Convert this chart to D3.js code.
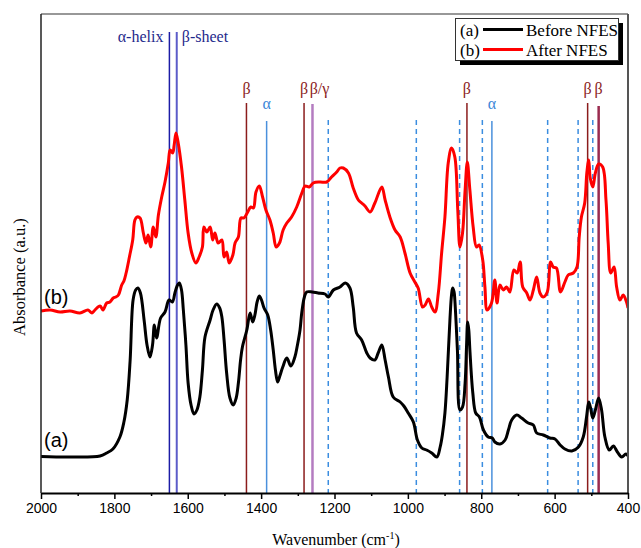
<!DOCTYPE html>
<html>
<head>
<meta charset="utf-8">
<script src="https://cdn.jsdelivr.net/npm/d3@7"></script>
<style>
  body { margin: 0; background: #fff; }
  svg { display: block; }
</style>
</head>
<body>
<div id="chart"></div>
<script>
// spectrum (a) before NFES: [wavenumber, absorbance a.u.]
var beforeNFES = [
  [2000,0.365],[1921,0.36],[1839,0.37],[1821,0.40],[1804,0.44],[1785,0.56],[1774,0.71],[1765,0.93],
  [1757,1.33],[1749,1.93],[1742,2.03],[1736,2.05],[1729,2.00],[1719,1.73],[1711,1.48],[1703,1.36],
  [1696,1.48],[1691,1.68],[1685,1.55],[1674,1.75],[1662,1.81],[1651,1.93],[1642,1.91],[1635,2.00],
  [1629,2.07],[1623,2.10],[1617,2.03],[1612,1.83],[1605,1.48],[1599,1.10],[1591,0.88],[1583,0.79],
  [1575,0.83],[1567,0.96],[1560,1.23],[1553,1.56],[1539,1.73],[1531,1.83],[1521,1.89],[1513,1.85],
  [1507,1.76],[1501,1.53],[1494,1.20],[1485,0.95],[1476,0.88],[1468,0.95],[1462,1.10],[1456,1.33],
  [1451,1.46],[1439,1.63],[1430,1.80],[1423,1.71],[1417,1.78],[1411,1.91],[1405,1.97],[1399,1.93],
  [1392,1.85],[1382,1.78],[1374,1.63],[1367,1.43],[1361,1.23],[1355,1.11],[1349,1.17],[1341,1.26],
  [1330,1.35],[1319,1.27],[1308,1.36],[1301,1.48],[1294,1.63],[1289,1.81],[1282,1.96],[1276,2.01],
  [1261,2.01],[1245,2.00],[1226,1.99],[1217,1.96],[1203,2.03],[1185,2.06],[1171,2.10],[1158,2.05],
  [1149,1.86],[1140,1.60],[1126,1.53],[1112,1.40],[1103,1.35],[1090,1.33],[1081,1.40],[1071,1.48],
  [1062,1.33],[1053,1.16],[1040,0.96],[1021,0.91],[1011,0.87],[999,0.80],[985,0.71],[974,0.53],
  [962,0.45],[949,0.43],[935,0.40],[921,0.36],[912,0.46],[906,0.58],[899,0.80],[893,1.16],
  [885,1.76],[881,1.98],[878,2.05],[874,2.01],[872,1.93],[865,1.43],[858,0.83],[851,0.86],
  [844,1.10],[840,1.48],[837,1.71],[834,1.63],[831,1.43],[823,1.00],[815,0.80],[805,0.76],
  [794,0.63],[781,0.56],[770,0.55],[763,0.51],[749,0.49],[735,0.53],[726,0.63],[717,0.73],
  [703,0.78],[690,0.75],[672,0.70],[658,0.68],[649,0.60],[631,0.58],[613,0.55],[599,0.54],
  [585,0.48],[572,0.44],[553,0.42],[535,0.46],[522,0.56],[513,0.76],[507,0.91],[502,0.85],
  [496,0.75],[489,0.83],[480,0.95],[472,0.83],[463,0.56],[451,0.43],[440,0.47],[429,0.41],
  [417,0.36],[406,0.39],[400,0.37]
];

// spectrum (b) after NFES (offset upward)
var afterNFES = [
  [2000,1.82],[1975,1.83],[1948,1.81],[1921,1.82],[1894,1.80],[1872,1.83],[1861,1.80],[1853,1.83],
  [1839,1.87],[1831,1.83],[1821,1.90],[1812,1.91],[1803,1.95],[1796,1.96],[1789,1.98],[1780,2.08],
  [1774,2.12],[1768,2.20],[1759,2.36],[1750,2.53],[1744,2.73],[1738,2.76],[1730,2.75],[1721,2.60],
  [1714,2.50],[1708,2.58],[1701,2.46],[1694,2.66],[1687,2.56],[1680,2.78],[1671,2.96],[1662,3.11],
  [1653,3.30],[1648,3.43],[1641,3.40],[1637,3.48],[1632,3.60],[1626,3.50],[1617,3.26],[1608,2.93],
  [1599,2.60],[1589,2.40],[1578,2.30],[1569,2.36],[1560,2.46],[1556,2.66],[1548,2.61],[1539,2.66],
  [1532,2.53],[1526,2.60],[1517,2.50],[1507,2.53],[1501,2.36],[1494,2.41],[1487,2.30],[1477,2.38],
  [1471,2.50],[1462,2.56],[1455,2.75],[1447,2.75],[1438,2.80],[1428,2.86],[1421,2.85],[1414,3.01],
  [1405,3.07],[1396,2.96],[1387,2.83],[1376,2.73],[1367,2.60],[1359,2.46],[1350,2.50],[1340,2.63],
  [1330,2.70],[1317,2.76],[1303,2.86],[1289,3.00],[1280,3.07],[1269,3.06],[1258,3.10],[1240,3.11],
  [1221,3.11],[1208,3.16],[1194,3.21],[1185,3.25],[1176,3.25],[1162,3.20],[1149,3.05],[1135,2.93],
  [1126,2.90],[1117,2.87],[1103,2.81],[1090,2.90],[1071,3.06],[1062,2.93],[1049,2.76],[1035,2.63],
  [1021,2.56],[1008,2.40],[994,2.20],[981,2.11],[972,2.05],[960,1.86],[953,1.88],[944,1.94],
  [935,1.86],[926,1.81],[917,2.00],[908,2.40],[899,2.76],[890,3.30],[881,3.45],[872,3.36],
  [864,2.83],[858,2.46],[851,2.60],[844,3.03],[838,3.31],[831,3.03],[822,2.66],[813,2.46],
  [806,2.48],[796,2.33],[790,2.06],[784,1.83],[772,1.90],[763,2.13],[757,1.90],[749,2.08],
  [740,2.03],[731,2.06],[722,2.01],[711,2.23],[702,2.20],[694,2.31],[687,2.06],[676,2.00],
  [667,1.93],[658,2.03],[649,2.16],[640,2.00],[631,1.96],[620,2.01],[611,2.31],[604,2.26],
  [595,2.25],[584,2.01],[572,2.11],[563,2.18],[549,2.20],[539,2.26],[533,2.56],[527,2.76],
  [518,2.90],[512,3.21],[507,3.33],[503,3.15],[496,3.06],[489,3.20],[480,3.29],[469,3.26],
  [460,2.93],[454,2.50],[447,2.20],[438,2.26],[431,2.06],[422,1.93],[413,1.98],[404,1.91],[400,1.85]
];

// band assignment markers: wavenumber + kind
var bandPositions = [1650, 1630, 1440, 1385, 1283, 1260, 1217, 977, 859, 839, 797, 771, 619, 536, 510, 496, 480];
var bandKinds = ["helix", "sheet", "beta", "alpha", "beta", "betagamma", "dash", "dash", "dash", "beta", "dash", "alpha", "dash", "dash", "beta", "dash", "beta2"];
var bandLabels = ["", "", "β", "α", "β", "β/γ", "", "", "", "β", "", "α", "", "", "β", "", "β"];

var xTicks = [2000, 1800, 1600, 1400, 1200, 1000, 800, 600, 400];
var legendItems = ["(a)", "(b)"];
var legendNames = ["Before NFES", "After NFES"];

var width = 641, height = 548;
var margin = {left: 41, right: 13, top: 14, bottom: 55};
var innerBottom = height - margin.bottom; // 493

var svg = d3.select("#chart").append("svg")
    .attr("width", width)
    .attr("height", height);

var x = d3.scaleLinear().domain([2000, 400]).range([margin.left, width - margin.right]);
var y = d3.scaleLinear().domain([0, 4.8]).range([innerBottom, innerBottom - 480]);

// styles for each marker kind
var kindStyle = {
    helix:     {stroke: "#1c1ca6", width: 1.5, dash: null, top: 32},
    sheet:     {stroke: "#5c5cc9", width: 2, dash: null, top: 32},
    beta:      {stroke: "#8b1c1c", width: 1.5, dash: null, top: 103},
    beta2:     {stroke: "#9a2b4f", width: 2.5, dash: null, top: 106},
    alpha:     {stroke: "#4a90dc", width: 1.5, dash: null, top: 121},
    betagamma: {stroke: "#b47cc0", width: 2.5, dash: null, top: 104},
    dash:      {stroke: "#3b8de0", width: 1.5, dash: "5,4", top: 120}
};

svg.append("defs").append("clipPath").attr("id", "plotclip")
    .append("rect")
    .attr("x", margin.left).attr("y", margin.top)
    .attr("width", width - margin.right - margin.left)
    .attr("height", innerBottom - margin.top);

// marker lines
var bands = svg.append("g");
bandPositions.forEach(function (w, i) {
    var s = kindStyle[bandKinds[i]];
    bands.append("line")
        .attr("x1", x(w)).attr("x2", x(w))
        .attr("y1", s.top).attr("y2", innerBottom)
        .attr("stroke", s.stroke)
        .attr("stroke-width", s.width)
        .attr("stroke-dasharray", s.dash);
});

// marker labels
var labelColor = {beta: "#8b2323", beta2: "#8b2323", betagamma: "#8b2323", alpha: "#3b86d8"};
bandPositions.forEach(function (w, i) {
    if (!bandLabels[i]) { return; }
    var k = bandKinds[i];
    bands.append("text")
        .attr("x", x(w) + (k === "betagamma" ? 7 : 0))
        .attr("y", k === "alpha" ? 109 : 94)
        .attr("text-anchor", "middle")
        .attr("font-family", "'Liberation Serif', serif")
        .attr("font-size", 16)
        .attr("fill", labelColor[k])
        .text(bandLabels[i]);
});

bands.append("text")
    .attr("x", x(1650) - 6).attr("y", 42)
    .attr("text-anchor", "end")
    .attr("font-family", "'Liberation Serif', serif")
    .attr("font-size", 16)
    .attr("fill", "#1f2a8c")
    .text("α-helix");
bands.append("text")
    .attr("x", x(1630) + 5).attr("y", 42)
    .attr("text-anchor", "start")
    .attr("font-family", "'Liberation Serif', serif")
    .attr("font-size", 16)
    .attr("fill", "#1f2a8c")
    .text("β-sheet");

// spectra
var line = d3.line()
    .x(function (d) { return x(d[0]); })
    .y(function (d) { return y(d[1]); })
    .curve(d3.curveCatmullRom.alpha(0.5));

var curves = svg.append("g").attr("clip-path", "url(#plotclip)");
curves.append("path")
    .datum(beforeNFES)
    .attr("d", line)
    .attr("fill", "none")
    .attr("stroke", "#000")
    .attr("stroke-width", 3)
    .attr("stroke-linejoin", "round");
curves.append("path")
    .datum(afterNFES)
    .attr("d", line)
    .attr("fill", "none")
    .attr("stroke", "#ff0000")
    .attr("stroke-width", 3)
    .attr("stroke-linejoin", "round");

// curve tags
svg.append("text")
    .attr("x", 44).attr("y", y(0.53) + 7)
    .attr("font-family", "'Liberation Sans', Arial, sans-serif")
    .attr("font-size", 20)
    .text("(a)");
svg.append("text")
    .attr("x", 44).attr("y", y(1.96) + 7)
    .attr("font-family", "'Liberation Sans', Arial, sans-serif")
    .attr("font-size", 20)
    .text("(b)");

// frame
svg.append("line")
    .attr("x1", margin.left).attr("x2", width - margin.right)
    .attr("y1", margin.top).attr("y2", margin.top)
    .attr("stroke", "#333").attr("stroke-width", 1.2);
svg.append("line")
    .attr("x1", margin.left).attr("x2", margin.left)
    .attr("y1", margin.top).attr("y2", innerBottom)
    .attr("stroke", "#222").attr("stroke-width", 1.5);
svg.append("line")
    .attr("x1", width - margin.right).attr("x2", width - margin.right)
    .attr("y1", margin.top).attr("y2", innerBottom)
    .attr("stroke", "#555").attr("stroke-width", 2);

// x axis
var xAxis = svg.append("g")
    .attr("transform", "translate(0," + innerBottom + ")")
    .call(d3.axisBottom(x).tickValues(xTicks).tickSize(6).tickSizeOuter(0).tickPadding(4)
        .tickFormat(d3.format("d")));
xAxis.select(".domain").attr("stroke", "#000").attr("stroke-width", 2);
xAxis.selectAll(".tick line").attr("stroke", "#000").attr("stroke-width", 1.5);
xAxis.selectAll("text")
    .attr("font-family", "'Liberation Sans', Arial, sans-serif")
    .attr("font-size", 14)
    .attr("fill", "#000");

// minor ticks
svg.append("g")
    .attr("transform", "translate(0," + innerBottom + ")")
    .call(d3.axisBottom(x).tickValues(d3.range(1900, 400, -200)).tickSize(3).tickFormat(""))
    .call(function (g) {
        g.select(".domain").remove();
        g.selectAll(".tick line").attr("stroke", "#000").attr("stroke-width", 1.5);
    });

// axis titles
var xTitle = svg.append("text")
    .attr("x", 336)
    .attr("y", 545)
    .attr("text-anchor", "middle")
    .attr("font-family", "'Liberation Serif', serif")
    .attr("font-size", 16);
xTitle.append("tspan").text("Wavenumber (cm");
xTitle.append("tspan").attr("dy", -6).attr("font-size", 10).text("-1");
xTitle.append("tspan").attr("dy", 6).text(")");

svg.append("text")
    .attr("transform", "translate(25,277) rotate(-90)")
    .attr("text-anchor", "middle")
    .attr("font-family", "'Liberation Serif', serif")
    .attr("font-size", 16.5)
    .text("Absorbance (a.u.)");

// legend with drop shadow
var legend = svg.append("g");
legend.append("rect")
    .attr("x", 460).attr("y", 23).attr("width", 163).attr("height", 42)
    .attr("fill", "#000");
legend.append("rect")
    .attr("x", 455.5).attr("y", 18.5).attr("width", 163).attr("height", 42)
    .attr("fill", "#fff").attr("stroke", "#333").attr("stroke-width", 1);
var legendColors = ["#000", "#ff0000"];
legendItems.forEach(function (lab, i) {
    var yy = 29.5 + i * 20;
    legend.append("text")
        .attr("x", 460).attr("y", yy + 6)
        .attr("font-family", "'Liberation Serif', serif")
        .attr("font-size", 17)
        .text(lab);
    legend.append("line")
        .attr("x1", 483).attr("x2", 523)
        .attr("y1", yy).attr("y2", yy)
        .attr("stroke", legendColors[i]).attr("stroke-width", 3);
    legend.append("text")
        .attr("x", 526).attr("y", yy + 6)
        .attr("font-family", "'Liberation Serif', serif")
        .attr("font-size", 17)
        .text(legendNames[i]);
});
</script>
</body>
</html>
